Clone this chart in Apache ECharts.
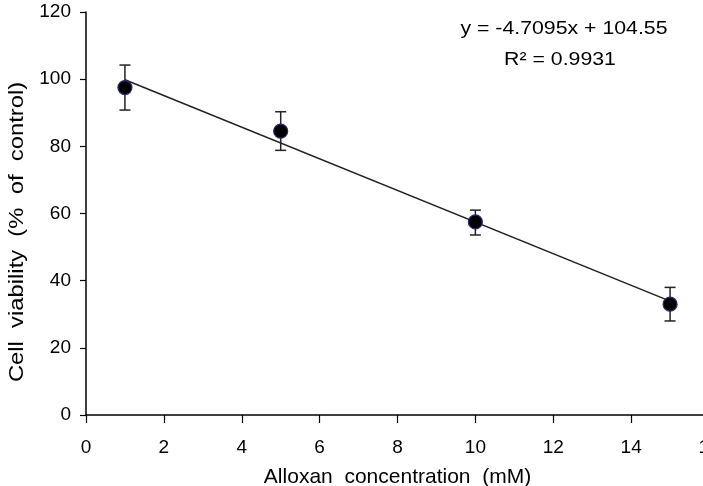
<!DOCTYPE html>
<html>
<head>
<meta charset="utf-8">
<script src="https://cdn.jsdelivr.net/npm/echarts@6/dist/echarts.min.js"></script>
<style>
  html, body { margin: 0; padding: 0; background: #fff; }
  #chart { width: 703px; height: 486px; }
</style>
</head>
<body>
<div id="chart"></div>
<script>
// values
const concentrations = [1, 5, 10, 15];
const viability = [97.5, 84.5, 57.5, 33];
const errLow = [90.8, 78.8, 53.6, 28];
const errHigh = [104.2, 90.3, 61, 38];
// end points of the fitted line y = -4.7095x + 104.55
const fitX = [1, 15];
const fitY = [99.84, 33.91];
const equationText = "y = -4.7095x + 104.55";
const r2Text = "R\u00b2 = 0.9931";
const xTitle = "Alloxan  concentration  (mM)";
const yTitle = "Cell  viability  (%  of  control)";

const FONT = "'Liberation Sans', Arial, sans-serif";

const chart = echarts.init(document.getElementById("chart"));

const points = concentrations.map((x, i) => [x, viability[i]]);
const bars = concentrations.map((x, i) => [x, errLow[i], errHigh[i]]);
const fitLine = fitX.map((x, i) => [x, fitY[i]]);

chart.setOption({
  backgroundColor: "#fff",
  animation: false,
  grid: { left: 86, top: 12, width: 623, height: 403, outerBoundsMode: "none" },
  xAxis: {
    type: "value",
    min: 0,
    max: 16,
    interval: 2,
    name: xTitle,
    nameLocation: "middle",
    nameGap: 52,
    nameTextStyle: { fontFamily: FONT, fontSize: 21, color: "#000" },
    axisLine: { lineStyle: { color: "#000", width: 1.5 } },
    axisTick: { inside: false, length: 8, lineStyle: { color: "#000", width: 1.2 } },
    axisLabel: { fontFamily: FONT, fontSize: 19, color: "#000", margin: 23 },
    splitLine: { show: false }
  },
  yAxis: {
    type: "value",
    min: 0,
    max: 120,
    interval: 20,
    axisLine: { show: true, lineStyle: { color: "#000", width: 1.5 } },
    axisTick: { show: true, inside: false, length: 6, lineStyle: { color: "#000", width: 1.2 } },
    axisLabel: { fontFamily: FONT, fontSize: 19, color: "#000", margin: 15 },
    splitLine: { show: false }
  },
  series: [
    {
      type: "line",
      data: fitLine,
      symbol: "none",
      lineStyle: { color: "#222", width: 1.5 },
      z: 2
    },
    {
      type: "custom",
      data: bars,
      z: 3,
      renderItem: function (params, api) {
        const x = api.value(0);
        const lo = api.coord([x, api.value(1)]);
        const hi = api.coord([x, api.value(2)]);
        const cap = 5.5;
        const style = { stroke: "#222", lineWidth: 1.5 };
        return {
          type: "group",
          children: [
            { type: "line", shape: { x1: lo[0], y1: lo[1], x2: hi[0], y2: hi[1] }, style: style },
            { type: "line", shape: { x1: hi[0] - cap, y1: hi[1], x2: hi[0] + cap, y2: hi[1] }, style: style },
            { type: "line", shape: { x1: lo[0] - cap, y1: lo[1], x2: lo[0] + cap, y2: lo[1] }, style: style }
          ]
        };
      }
    },
    {
      type: "scatter",
      data: points,
      symbol: "circle",
      symbolSize: 14,
      itemStyle: { color: "#000", borderColor: "#2a2a70", borderWidth: 1.2, opacity: 1 },
      z: 4
    }
  ],
  graphic: [
    {
      type: "text",
      x: 17,
      y: 232,
      rotation: Math.PI / 2,
      scaleX: 1.19,
      style: { text: yTitle, font: "20px " + FONT, fill: "#000", align: "center", verticalAlign: "middle" }
    },
    {
      type: "text",
      x: 564,
      y: 29,
      scaleX: 1.12,
      style: { text: equationText, font: "19px " + FONT, fill: "#000", align: "center", verticalAlign: "middle" }
    },
    {
      type: "text",
      x: 560,
      y: 60,
      scaleX: 1.12,
      style: { text: r2Text, font: "19px " + FONT, fill: "#000", align: "center", verticalAlign: "middle" }
    }
  ]
});
</script>
</body>
</html>
